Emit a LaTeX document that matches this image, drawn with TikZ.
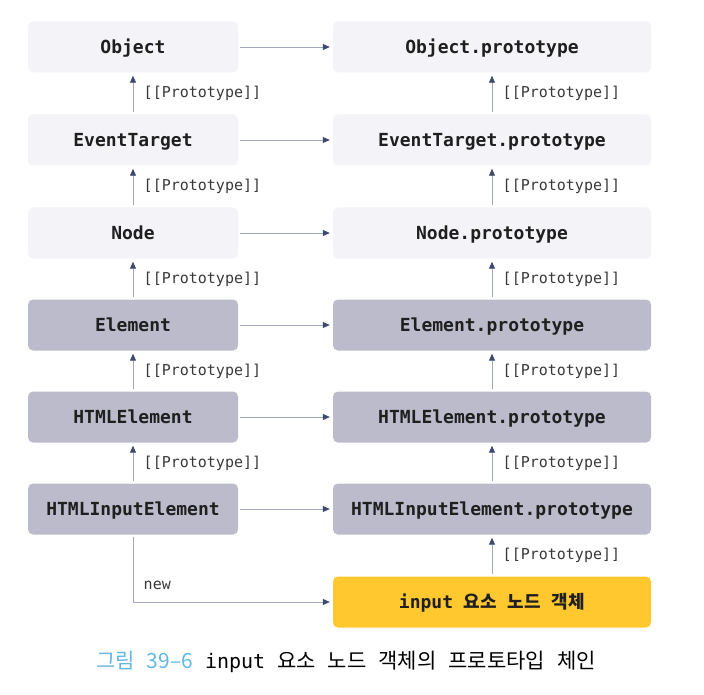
\documentclass[tikz,border=0pt]{standalone}
\usepackage{fontspec}
\setmonofont{DejaVu Sans Mono}
\newfontfamily\krfont{Noto Sans CJK KR}
\usetikzlibrary{arrows.meta}
\definecolor{lightbox}{HTML}{F3F3F8}
\definecolor{greybox}{HTML}{BBBBCB}
\definecolor{yellowbox}{HTML}{FFC82E}
\definecolor{linecol}{HTML}{A3A8BD}
\definecolor{tipcol}{HTML}{3D4A6E}
\definecolor{capblue}{HTML}{62B8E6}
\newcommand\kr[1]{{\krfont\fontsize{21}{24}\selectfont #1}}
\begin{document}
\begin{tikzpicture}[x=1pt,y=-1pt,
  box/.style={rounded corners=5pt,minimum height=51pt,text=black!88,
    text height=15pt,text depth=2pt,
    font=\fontsize{18}{20}\selectfont\ttfamily\bfseries},
  lbox/.style={box,minimum width=210pt},
  rbox/.style={box,minimum width=318pt},
  link/.style={draw=linecol,line width=0.8pt,shorten <=2pt,shorten >=3pt,
    -{Triangle[length=7pt,width=6pt,color=tipcol]}},
  tag/.style={font=\fontsize{15}{17}\selectfont\ttfamily,text=black!78,anchor=west,xshift=7pt}]
\useasboundingbox (0,0) rectangle (704,695);
% constructors
\node[lbox,fill=lightbox] (obj) at (133,47) {Object};
\node[lbox,fill=lightbox] (evt) at (133,140) {EventTarget};
\node[lbox,fill=lightbox] (nod) at (133,233) {Node};
\node[lbox,fill=greybox] (elm) at (133,325) {Element};
\node[lbox,fill=greybox] (html) at (133,417) {HTMLElement};
\node[lbox,fill=greybox] (inel) at (133,509) {HTMLInputElement};
% prototypes
\node[rbox,fill=lightbox] (objp) at (492,47) {Object.prototype};
\node[rbox,fill=lightbox] (evtp) at (492,140) {EventTarget.prototype};
\node[rbox,fill=lightbox] (nodp) at (492,233) {Node.prototype};
\node[rbox,fill=greybox] (elmp) at (492,325) {Element.prototype};
\node[rbox,fill=greybox] (htmlp) at (492,417) {HTMLElement.prototype};
\node[rbox,fill=greybox] (inelp) at (492,509) {HTMLInputElement.prototype};
\node[rbox,fill=yellowbox] (inp) at (492,602) {input {\krfont\bfseries 요소} {\krfont\bfseries 노드} {\krfont\bfseries 객체}};
% prototype links
\draw[link] (obj) -- (objp);
\draw[link] (evt) -- (evtp);
\draw[link] (nod) -- (nodp);
\draw[link] (elm) -- (elmp);
\draw[link] (html) -- (htmlp);
\draw[link] (inel) -- (inelp);
% [[Prototype]] chains
\draw[link] (evt) -- node[tag] {[[Prototype]]} (obj);
\draw[link] (nod) -- node[tag] {[[Prototype]]} (evt);
\draw[link] (elm) -- node[tag] {[[Prototype]]} (nod);
\draw[link] (html) -- node[tag] {[[Prototype]]} (elm);
\draw[link] (inel) -- node[tag] {[[Prototype]]} (html);
\draw[link] (evtp) -- node[tag] {[[Prototype]]} (objp);
\draw[link] (nodp) -- node[tag] {[[Prototype]]} (evtp);
\draw[link] (elmp) -- node[tag] {[[Prototype]]} (nodp);
\draw[link] (htmlp) -- node[tag] {[[Prototype]]} (elmp);
\draw[link] (inelp) -- node[tag] {[[Prototype]]} (htmlp);
\draw[link] (inp) -- node[tag] {[[Prototype]]} (inelp);
% new
\draw[link] (inel) |- node[tag,pos=0.5,anchor=south west,yshift=9pt] {new} (inp);
% caption
\node (cap) at (346,662) {\fontsize{20}{22}\selectfont\ttfamily
  \color{capblue}\kr{그림} \kr{39–6}
  \color{black}input \kr{요소} \kr{노드} \kr{객체의} \kr{프로토타입} \kr{체인}};
\end{tikzpicture}
\end{document}
